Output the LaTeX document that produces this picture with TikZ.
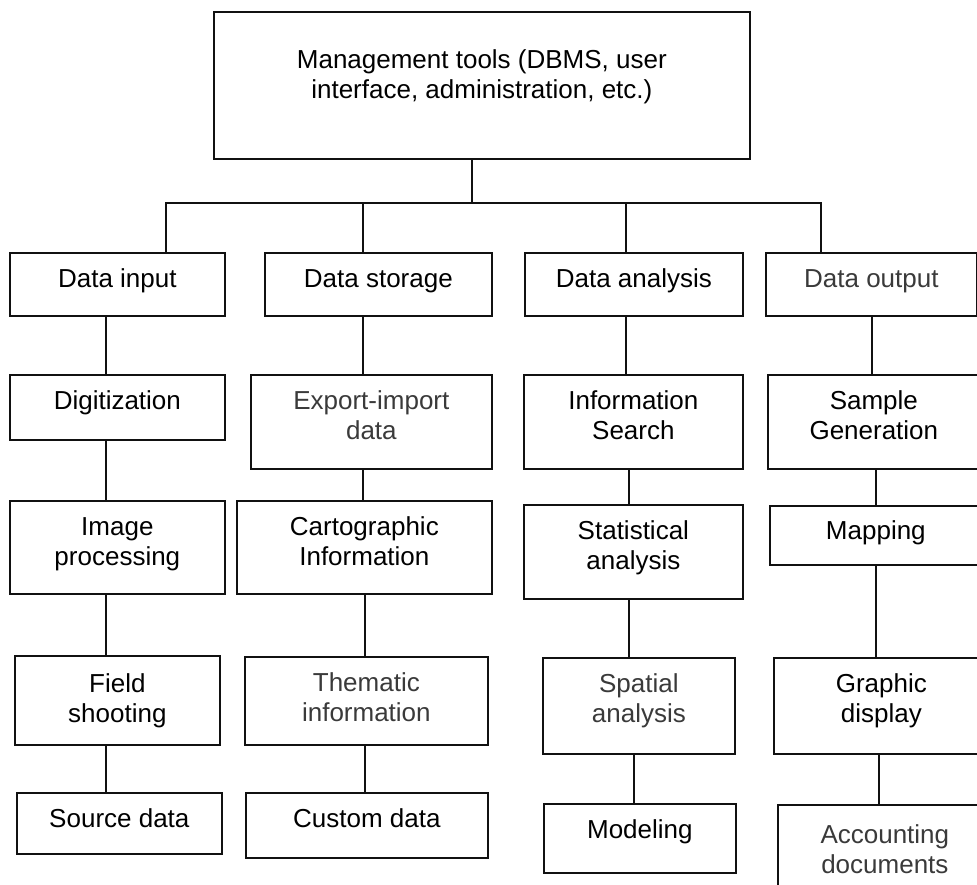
\documentclass[tikz,border=0pt]{standalone}
\usepackage{fontspec}
\setmainfont{Liberation Sans}
\usetikzlibrary{positioning}
\definecolor{boxline}{HTML}{111111}
\definecolor{softtext}{HTML}{3A3A3A}

\begin{document}
\begin{tikzpicture}[x=1pt, y=-1pt,
    font=\fontsize{26}{30}\selectfont,
    box/.style={draw=boxline, line width=1.7pt, anchor=north west,
                align=center, inner xsep=4pt, inner ysep=0pt},
    soft/.style={text=softtext},
    link/.style={draw=boxline, line width=1.6pt}]
    \useasboundingbox (0,0) rectangle (977,885);
    \clip (0,0) rectangle (977,885);

    % management box
    \node[box, minimum width=536pt, text height=87pt, text depth=60pt] (top) at (213,11)
          {Management tools (DBMS, user\\interface, administration, etc.)};

    % first row
    \node[box, minimum width=215pt, text height=35pt, text depth=28pt] (din) at (9,252) {Data input};
    \node[box, minimum width=227pt, text height=35pt, text depth=28pt] (dst) at (264,252) {Data storage};
    \node[box, minimum width=218pt, text height=35pt, text depth=28pt] (dan) at (524,252) {Data analysis};
    \node[box, soft, minimum width=211pt, text height=35pt, text depth=28pt] (dout) at (765,252) {Data output};

    % data input column
    \node[box, minimum width=215pt, text height=35pt, text depth=30pt] (dig) at (9,374) {Digitization};
    \node[box, minimum width=215pt, text height=65pt, text depth=28pt] (img) at (9,500) {Image\\processing};
    \node[box, minimum width=205pt, text height=67pt, text depth=22pt] (fld) at (14,655) {Field\\shooting};
    \node[box, minimum width=205pt, text height=35pt, text depth=26pt] (src) at (16,792) {Source data};

    % data storage column
    \node[box, soft, minimum width=241pt, text height=65pt, text depth=29pt] (exp) at (250,374) {Export-import\\data};
    \node[box, minimum width=255pt, text height=65pt, text depth=28pt] (car) at (236,500) {Cartographic\\Information};
    \node[box, soft, minimum width=243pt, text height=65pt, text depth=23pt] (thm) at (244,656) {Thematic\\information};
    \node[box, minimum width=242pt, text height=35pt, text depth=30pt] (cus) at (245,792) {Custom data};

    % data analysis column
    \node[box, minimum width=219pt, text height=65pt, text depth=29pt] (isr) at (523,374) {Information\\Search};
    \node[box, minimum width=219pt, text height=65pt, text depth=29pt] (sta) at (523,504) {Statistical\\analysis};
    \node[box, soft, minimum width=192pt, text height=65pt, text depth=31pt] (spa) at (542,657) {Spatial\\analysis};
    \node[box, minimum width=192pt, text height=35pt, text depth=34pt] (mod) at (543,803) {Modeling};

    % data output column
    \node[box, minimum width=212pt, text height=65pt, text depth=29pt] (sam) at (767,374) {Sample\\Generation};
    \node[box, minimum width=212pt, text height=34pt, text depth=25pt] (map) at (769,505) {Mapping};
    \node[box, minimum width=215pt, text height=65pt, text depth=31pt] (gra) at (773,657) {Graphic\\display};
    \node[box, soft, minimum width=214pt, text height=69pt, text depth=30pt] (acc) at (777,804) {Accounting\\documents};

    % bus from the management box
    \coordinate (bus) at (472,203);
    \coordinate (b1) at (166,203);
    \coordinate (b2) at (363,203);
    \coordinate (b3) at (626,203);
    \coordinate (b4) at (821,203);
    \draw[link] (top.south -| bus) -- (bus);
    \draw[link] (din.north -| b1) -- (b1) -- (b4) -- (dout.north -| b4);
    \draw[link] (b2) -- (dst.north -| b2);
    \draw[link] (b3) -- (dan.north -| b3);

    % column lines
    \coordinate (c1) at (106,0);
    \coordinate (c2) at (363,0);
    \coordinate (c2b) at (365,0);
    \coordinate (c3) at (626,0);
    \coordinate (c3b) at (629,0);
    \coordinate (c3c) at (634,0);
    \coordinate (c4) at (872,0);
    \coordinate (c4b) at (876,0);
    \coordinate (c4c) at (879,0);

    \draw[link] (din.south -| c1) -- (dig.north -| c1);
    \draw[link] (dig.south -| c1) -- (img.north -| c1);
    \draw[link] (img.south -| c1) -- (fld.north -| c1);
    \draw[link] (fld.south -| c1) -- (src.north -| c1);

    \draw[link] (dst.south -| c2) -- (exp.north -| c2);
    \draw[link] (exp.south -| c2) -- (car.north -| c2);
    \draw[link] (car.south -| c2b) -- (thm.north -| c2b);
    \draw[link] (thm.south -| c2b) -- (cus.north -| c2b);

    \draw[link] (dan.south -| c3) -- (isr.north -| c3);
    \draw[link] (isr.south -| c3b) -- (sta.north -| c3b);
    \draw[link] (sta.south -| c3b) -- (spa.north -| c3b);
    \draw[link] (spa.south -| c3c) -- (mod.north -| c3c);

    \draw[link] (dout.south -| c4) -- (sam.north -| c4);
    \draw[link] (sam.south -| c4b) -- (map.north -| c4b);
    \draw[link] (map.south -| c4b) -- (gra.north -| c4b);
    \draw[link] (gra.south -| c4c) -- (acc.north -| c4c);
\end{tikzpicture}
\end{document}
